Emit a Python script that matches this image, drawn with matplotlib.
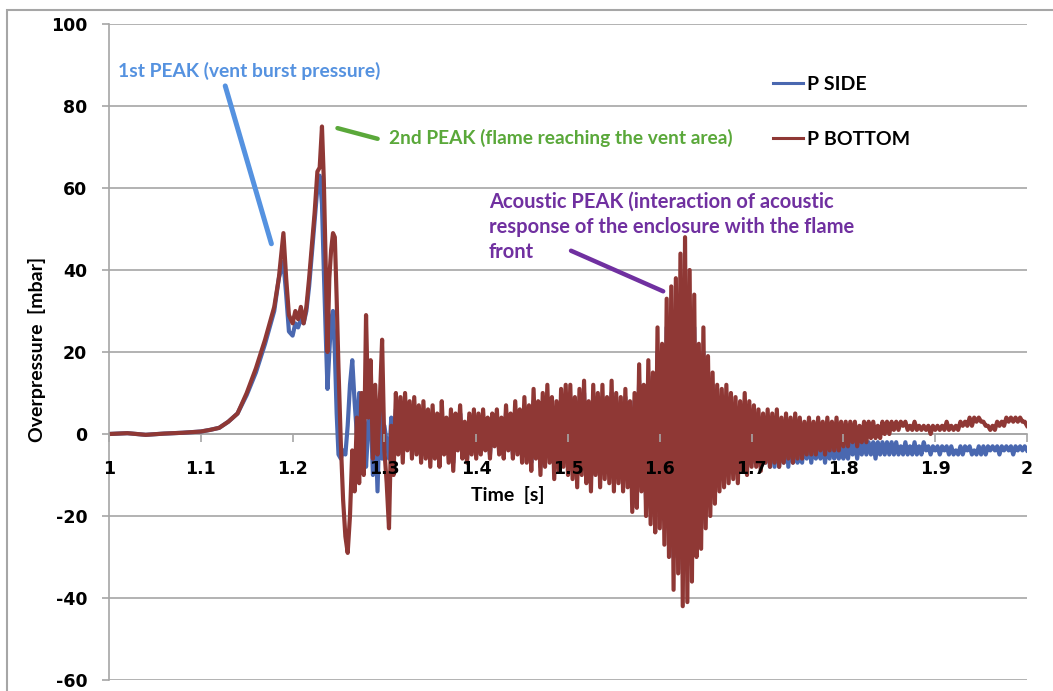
import numpy as np
import matplotlib.pyplot as plt
from matplotlib.lines import Line2D
from matplotlib.patches import Rectangle

plt.rcParams["axes.unicode_minus"] = False

# pressure build-up up to the two main peaks [s], [mbar]
t_rise = [1.0, 1.02, 1.04, 1.06, 1.08, 1.10, 1.11, 1.12, 1.13, 1.14,
          1.15, 1.16, 1.17, 1.18, 1.185, 1.19, 1.193, 1.196, 1.2, 1.203,
          1.206, 1.209, 1.212, 1.215, 1.218, 1.221, 1.224, 1.227, 1.2295, 1.232,
          1.234, 1.236, 1.238, 1.24, 1.242, 1.244, 1.246, 1.248, 1.25]
bottom_rise = [0, 0.2, -0.2, 0.1, 0.3, 0.6, 1.0, 1.5, 3.0, 5.0,
               10, 16, 23, 31, 38, 49, 38, 29, 27, 30,
               28, 31, 27, 31, 38, 46, 54, 64, 65, 75,
               62, 42, 20, 38, 45, 49, 48, 33, 16]
side_rise = [0, 0.2, -0.2, 0.1, 0.3, 0.6, 1.0, 1.5, 3.0, 5.0,
             9.5, 15, 22, 30, 38, 42, 34, 25, 24, 27,
             26, 28, 27, 30, 36, 44, 52, 60, 63, 56,
             40, 25, 11, 20, 28, 30, 20, 5, -5]

# oscillating part, one row per 0.05 s (samples every 2.5 ms from 1.2525 s)
bottom_osc = [
    [-2, -16, -25, -29, -20, -4, -14, 4, -12, 10, -10, 29, 4, 18, -6, 12, -5, 8, 23, -4],
    [-12, -23, 2, -10, 10, -5, 9, -7, 10, -4, 8, -6, 9, -5, 7, -7, 8, -6, 6, -8],
    [7, -6, 5, -8, 8, -5, 4, -7, 6, -9, 5, -4, 7, -6, 3, -7, 5, -5, 6, -6],
    [5, -5, 6, -4, 4, -6, 5, -3, 6, -5, 4, -6, 7, -4, 5, -6, 8, -5, 6, -7],
    [9, -7, 7, -9, 11, -6, 8, -10, 10, -8, 12, -7, 9, -11, 8, -9, 11, -8, 12, -10],
    [12, -11, 9, -13, 11, -10, 13, -12, 8, -14, 12, -10, 10, -13, 12, -11, 9, -12, 13, -14],
    [10, -12, 9, -14, 11, -13, 8, -19, 10, -18, 17, -14, 12, -20, 18, -22, 15, -24, 26, -23],
    [22, -27, 33, -30, 36, -38, 38, -34, 44, -42, 48, -41, 40, -36, 34, -30, 22, -28, 26, -23],
    [19, -20, 15, -17, 12, -14, 11, -13, 12, -12, 10, -11, 9, -12, 8, -9, 10, -10, 8, -8],
    [7, -8, 6, -9, 5, -7, 6, -8, 5, -7, 6, -8, 4, -7, 5, -6, 4, -7, 5, -6],
    [4, -6, 3, -5, 4, -5, 3, -5, 4, -4, 3, -5, 4, -4, 3, -4, 4, -4, 3, -3],
    [3, -3, 3, -2, 3, -3, 2, -2, 3, -2, 3, -1, 3, -1, 2, -1, 3, 0, 3, 0],
    [3, 1, 3, 1, 3, 2, 3, 1, 2, 1, 3, 1, 2, 1, 2, 1, 2, 0, 2, 1],
    [2, 1, 2, 1, 3, 1, 2, 1, 2, 1, 3, 2, 3, 2, 4, 2, 4, 3, 4, 3],
    [3, 2, 2, 1, 2, 1, 3, 2, 3, 2, 4, 3, 4, 3, 4, 3, 4, 3, 3, 2],
]
side_osc = [
    [-6, -4, -5, 2, 12, 18, 8, 0, 10, 4, 10, -8, 2, 6, -10, 4, -14, 6, -6, 2],
    [-2, -6, 4, -4, 6, -3, 5, -5, 7, -2, 5, -4, 6, -3, 4, -5, 5, -4, 4, -6],
    [4, -5, 3, -6, 5, -4, 3, -5, 4, -7, 3, -3, 5, -5, 2, -6, 4, -4, 5, -5],
    [3, -4, 4, -3, 3, -5, 4, -2, 4, -4, 3, -5, 5, -3, 4, -5, 6, -4, 5, -5],
    [6, -5, 5, -7, 8, -5, 6, -8, 7, -6, 9, -5, 7, -8, 6, -7, 8, -6, 9, -8],
    [9, -9, 7, -10, 8, -8, 10, -9, 6, -11, 9, -8, 8, -10, 9, -9, 7, -9, 10, -11],
    [8, -10, 7, -11, 9, -10, 6, -15, 8, -14, 13, -11, 9, -16, 14, -18, 12, -19, 20, -18],
    [17, -21, 26, -24, 28, -30, 30, -27, 34, -33, 37, -32, 31, -28, 26, -24, 17, -22, 20, -18],
    [15, -16, 12, -13, 9, -11, 8, -10, 9, -9, 7, -9, 6, -9, 5, -7, 7, -8, 5, -7],
    [4, -7, 3, -8, 3, -7, 4, -8, 2, -8, 3, -8, 2, -7, 2, -8, 1, -7, 2, -7],
    [0, -7, -1, -6, -1, -7, -2, -6, -1, -6, -2, -7, -2, -6, -2, -6, -3, -6, -3, -6],
    [-2, -6, -2, -5, -2, -6, -2, -5, -2, -5, -2, -5, -2, -6, -2, -5, -2, -5, -2, -5],
    [-2, -5, -2, -5, -3, -5, -2, -5, -3, -5, -2, -5, -3, -5, -2, -4, -3, -5, -3, -4],
    [-3, -5, -3, -4, -3, -5, -3, -5, -4, -5, -3, -5, -3, -4, -3, -5, -4, -5, -3, -5],
    [-3, -5, -3, -4, -3, -4, -3, -5, -3, -4, -3, -4, -3, -5, -3, -4, -3, -4, -3, -4],
]

series_names = ["P SIDE", "P BOTTOM"]
yticks = [-60, -40, -20, 0, 20, 40, 60, 80, 100]
xticks = [1, 1.1, 1.2, 1.3, 1.4, 1.5, 1.6, 1.7, 1.8, 1.9, 2]

C_SIDE = "#4a68b0"
C_BOTTOM = "#8f3835"
GRID = "#a6a6a6"
LABEL_FONT = ["Lato", "DejaVu Sans"]

t_osc = np.linspace(1.2525, 2.0, 300)
t_side = np.concatenate([t_rise, t_osc])
t_bottom = np.concatenate([t_rise, t_osc])
p_side = np.concatenate([side_rise, np.ravel(side_osc)])
p_bottom = np.concatenate([bottom_rise, np.ravel(bottom_osc)])

fig = plt.figure(figsize=(10.53, 6.91), dpi=100)
ax = fig.add_axes([109 / 1053, 11 / 691, 918 / 1053, 656 / 691])

ax.plot(t_side, p_side, color=C_SIDE, lw=3.0, solid_joinstyle="round")
ax.plot(t_bottom, p_bottom, color=C_BOTTOM, lw=3.0, solid_joinstyle="round")

ax.set_xlim(1, 2)
ax.set_ylim(-60, 100)
ax.set_yticks(yticks)
ax.set_xticks(xticks)
ax.set_xticklabels([f"{v:g}" for v in xticks])
ax.yaxis.grid(True, color=GRID, lw=1.2)
ax.set_axisbelow(True)
# time labels sit on the zero line, keep them readable over the traces
ax.xaxis.set_zorder(3)

for side in ["top", "right"]:
    ax.spines[side].set_visible(False)
ax.spines["left"].set_color(GRID)
ax.spines["left"].set_linewidth(1.2)
ax.spines["bottom"].set_position(("data", 0))
ax.spines["bottom"].set_color(GRID)
ax.spines["bottom"].set_linewidth(1.2)
ax.spines["bottom"].set_zorder(1)
ax.tick_params(axis="y", length=5.2, width=1.2, color=GRID, pad=10.5,
               labelsize=12.5)
ax.tick_params(axis="x", length=5.5, width=1.2, color=GRID, pad=13,
               labelsize=12.5)
for lab in ax.get_xticklabels() + ax.get_yticklabels():
    lab.set_fontweight("bold")

fig.text(37 / 1053, 1 - 349 / 691, "Overpressure  [mbar]", rotation=90,
         ha="center", va="center", fontsize=14, fontweight="bold", family=LABEL_FONT)
fig.text(508 / 1053, 1 - 495 / 691, "Time  [s]", ha="center", va="center",
         fontsize=14, fontweight="bold", family=LABEL_FONT)

# annotations for the three peaks
ax.text(1.0098, 88.5, "1st PEAK (vent burst pressure)", color="#5592e0",
        fontsize=13.9, fontweight="bold", family=LABEL_FONT, va="center")
ax.annotate("", xy=(1.1769, 46.4), xytext=(1.1266, 84.9),
            arrowprops=dict(arrowstyle="-", color="#5592e0", lw=3.6,
                            capstyle="round", shrinkA=0, shrinkB=0))
ax.text(1.3046, 72.2, "2nd PEAK (flame reaching the vent area)", color="#5aa83a",
        fontsize=13.8, fontweight="bold", family=LABEL_FONT, va="center")
ax.annotate("", xy=(1.2926, 72.0), xytext=(1.2489, 74.6),
            arrowprops=dict(arrowstyle="-", color="#5aa83a", lw=3.2,
                            capstyle="round", shrinkA=0, shrinkB=0))
ax.text(1.4138, 59.0, "Acoustic PEAK (interaction of acoustic\n"
        "response of the enclosure with the flame\nfront", color="#7030a0",
        fontsize=14.5, fontweight="bold", family=LABEL_FONT, va="top",
        linespacing=1.3)
ax.annotate("", xy=(1.6037, 34.8), xytext=(1.5033, 44.7),
            arrowprops=dict(arrowstyle="-", color="#7030a0", lw=3.2,
                            capstyle="round", shrinkA=0, shrinkB=0))

handles = [Line2D([], [], color=C_SIDE, lw=2.2),
           Line2D([], [], color=C_BOTTOM, lw=2.2)]
ax.legend(handles, series_names, loc="upper left",
          bbox_to_anchor=(773 / 1053, 1 - 76 / 691), bbox_transform=fig.transFigure,
          frameon=False, borderpad=0, borderaxespad=0, handlelength=1.55,
          handletextpad=0.2, labelspacing=1.95,
          prop=dict(family=LABEL_FONT, weight="bold", size=14))

# chart area border
fig.add_artist(Rectangle((7 / 1053, -0.1), 1.2, 1.1 - 10 / 691,
                         transform=fig.transFigure, fill=False,
                         ec=GRID, lw=1.5))

fig.savefig("out.png", dpi=100)
